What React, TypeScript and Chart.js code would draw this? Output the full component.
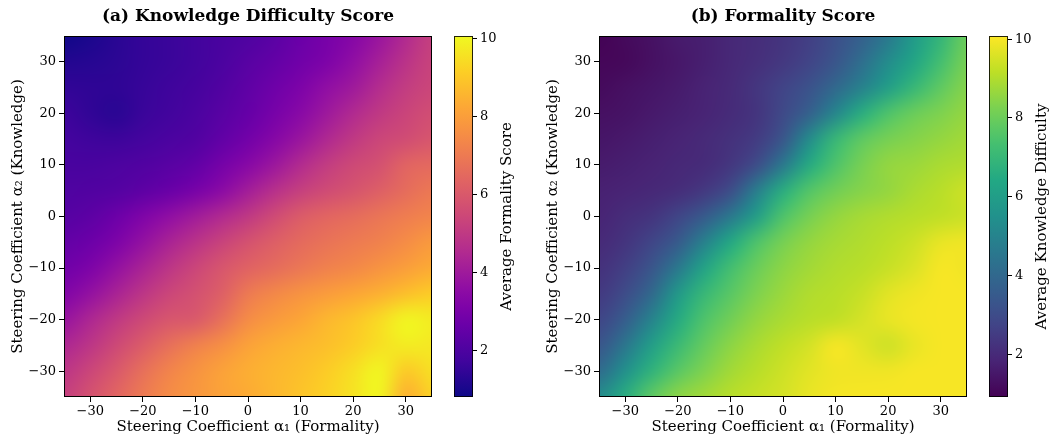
import React, { useEffect, useRef } from 'react';
import { Chart, registerables } from 'chart.js';
Chart.register(...registerables);

// ---------------- data ----------------
const alphaX = [-35, -30, -25, -20, -15, -10, -5, 0, 5, 10, 15, 20, 25, 30, 35];
const alphaY = [35, 30, 25, 20, 15, 10, 5, 0, -5, -10, -15, -20, -25, -30, -35];
const axisTicks = [-30, -20, -10, 0, 10, 20, 30];
const colorbarTicks = [2, 4, 6, 8, 10];

const panelATitle = '(a) Knowledge Difficulty Score';
const panelBTitle = '(b) Formality Score';
const panelALabel = 'Average Formality Score';
const panelBLabel = 'Average Knowledge Difficulty';
const xTitle = 'Steering Coefficient α\u2081 (Formality)';
const yTitle = 'Steering Coefficient α\u2082 (Knowledge)';

const panelARange = [0.8, 10.07];
const panelBRange = [0.92, 10.08];

// rows: alphaY (top to bottom), columns: alphaX (left to right)
const panelAScores = [
  [0.85, 1.05, 1.3, 1.5, 1.6, 1.75, 1.9, 2.05, 2.3, 2.65, 2.95, 3.3, 3.85, 4.5, 5.2],
  [1.2, 1.25, 1.35, 1.5, 1.6, 1.75, 1.95, 2.25, 2.5, 2.8, 3.1, 3.6, 4.2, 4.8, 5.3],
  [1.45, 1.4, 1.4, 1.55, 1.7, 1.85, 2.1, 2.4, 2.75, 3.1, 3.6, 4.0, 4.6, 5.1, 5.4],
  [1.65, 1.45, 1.3, 1.6, 1.75, 1.95, 2.25, 2.55, 2.95, 3.4, 3.95, 4.5, 5.0, 5.35, 5.65],
  [1.8, 1.7, 1.65, 1.8, 1.95, 2.1, 2.45, 2.85, 3.3, 3.85, 4.45, 5.0, 5.4, 5.6, 5.9],
  [1.9, 1.9, 2.0, 2.1, 2.25, 2.45, 2.9, 3.35, 3.9, 4.55, 5.1, 5.5, 5.75, 6.35, 6.5],
  [2.05, 2.1, 2.15, 2.35, 2.6, 2.95, 3.45, 4.1, 4.7, 5.2, 5.55, 5.85, 6.2, 6.6, 6.95],
  [2.2, 2.35, 2.7, 3.15, 3.6, 4.05, 4.5, 5.0, 5.55, 6.1, 6.4, 6.6, 6.85, 7.1, 7.3],
  [2.5, 2.7, 3.1, 3.7, 4.3, 4.8, 5.3, 5.8, 6.2, 6.55, 6.8, 7.0, 7.2, 7.5, 7.9],
  [2.8, 3.1, 3.7, 4.3, 4.9, 5.4, 5.9, 6.3, 6.6, 6.9, 7.2, 7.4, 7.7, 8.0, 8.3],
  [3.2, 3.7, 4.3, 4.9, 5.4, 5.75, 6.2, 7.0, 7.4, 7.7, 7.95, 8.2, 8.45, 8.8, 9.1],
  [3.8, 4.4, 5.0, 5.5, 5.9, 6.0, 6.7, 7.5, 7.9, 8.2, 8.6, 8.9, 9.4, 10.0, 9.8],
  [4.4, 4.9, 5.5, 6.1, 6.7, 7.2, 7.6, 8.1, 8.4, 8.6, 8.8, 9.1, 9.5, 9.8, 9.7],
  [4.9, 5.4, 6.0, 6.7, 7.3, 7.7, 8.1, 8.4, 8.6, 8.8, 9.1, 9.5, 10.0, 9.0, 9.5],
  [5.2, 5.8, 6.4, 7.0, 7.5, 7.8, 8.1, 8.3, 8.6, 8.9, 9.2, 9.6, 10.0, 8.4, 9.2],
];

const panelBScores = [
  [0.95, 1.15, 1.35, 1.6, 1.7, 1.95, 2.1, 2.3, 2.6, 3.1, 3.7, 4.6, 5.9, 6.9, 8.0],
  [1.05, 1.1, 1.3, 1.5, 1.7, 1.95, 2.15, 2.4, 2.75, 3.3, 4.2, 5.3, 6.3, 7.3, 8.2],
  [1.15, 1.3, 1.45, 1.6, 1.8, 2.0, 2.35, 2.75, 3.2, 4.0, 4.9, 6.0, 7.0, 7.8, 8.4],
  [1.3, 1.4, 1.55, 1.7, 1.85, 2.05, 2.3, 2.9, 3.7, 5.1, 6.6, 7.5, 8.0, 8.3, 8.6],
  [1.45, 1.55, 1.7, 1.85, 2.0, 2.2, 2.5, 3.3, 5.3, 7.0, 7.8, 8.2, 8.4, 8.6, 8.8],
  [1.6, 1.7, 1.8, 1.95, 2.05, 2.35, 3.0, 4.6, 6.5, 7.5, 8.2, 8.6, 8.7, 8.9, 9.0],
  [1.75, 1.85, 1.95, 2.1, 2.4, 3.0, 4.8, 6.6, 7.6, 8.1, 8.4, 8.6, 8.9, 9.1, 9.4],
  [1.85, 2.1, 2.3, 2.8, 3.5, 4.6, 6.0, 7.5, 8.2, 8.6, 8.85, 9.0, 9.1, 9.2, 9.35],
  [2.0, 2.3, 2.8, 3.5, 4.9, 6.4, 7.5, 8.2, 8.6, 8.85, 9.0, 9.15, 9.4, 9.8, 9.9],
  [2.2, 2.6, 3.3, 4.6, 6.2, 7.3, 8.0, 8.5, 8.8, 9.0, 9.1, 9.3, 9.6, 10.0, 9.9],
  [2.45, 3.0, 4.0, 5.8, 7.0, 7.7, 8.3, 8.7, 9.0, 9.1, 9.3, 9.7, 9.9, 10.0, 10.0],
  [2.8, 3.6, 5.0, 6.5, 7.5, 8.1, 8.6, 8.9, 9.1, 9.2, 9.5, 9.8, 9.95, 10.0, 10.0],
  [3.3, 4.5, 6.0, 7.1, 7.9, 8.5, 8.9, 9.2, 9.5, 10.0, 9.7, 9.4, 9.8, 10.0, 10.0],
  [4.1, 5.5, 6.8, 7.7, 8.3, 8.8, 9.1, 9.4, 9.7, 9.9, 9.9, 9.9, 10.0, 10.0, 10.0],
  [5.3, 6.6, 7.8, 8.5, 8.8, 9.1, 9.3, 9.5, 9.8, 9.95, 10.0, 10.0, 10.0, 10.0, 10.0],
];

// colormap stops: [position, r, g, b]
const plasmaStops: number[][] = [
  [0.0, 13, 8, 135], [0.1, 65, 4, 157], [0.2, 106, 0, 168], [0.25, 126, 3, 168],
  [0.3, 143, 13, 164], [0.4, 177, 42, 144], [0.5, 204, 71, 120], [0.6, 225, 100, 98],
  [0.7, 242, 132, 75], [0.75, 248, 149, 64], [0.8, 252, 166, 54], [0.9, 252, 206, 37],
  [1.0, 240, 249, 33],
];
const viridisStops: number[][] = [
  [0.0, 68, 1, 84], [0.1, 72, 36, 117], [0.2, 65, 68, 135], [0.25, 59, 82, 139],
  [0.3, 53, 95, 141], [0.4, 42, 120, 142], [0.5, 33, 145, 140], [0.6, 34, 168, 132],
  [0.7, 68, 191, 112], [0.75, 94, 201, 98], [0.8, 122, 209, 81], [0.9, 189, 223, 38],
  [1.0, 253, 231, 37],
];

// ---------------- helpers ----------------
const FONT = "'DejaVu Serif', serif";

function colorAt(stops: number[][], t: number): number[] {
  const tt = Math.max(0, Math.min(1, t));
  for (let i = 1; i < stops.length; i++) {
    if (tt <= stops[i][0]) {
      const a = stops[i - 1], b = stops[i];
      const f = (tt - a[0]) / (b[0] - a[0]);
      return [0, 1, 2].map(k => Math.round(a[k + 1] + (b[k + 1] - a[k + 1]) * f));
    }
  }
  const l = stops[stops.length - 1];
  return [l[1], l[2], l[3]];
}

const fmtTick = (v: number | string) => {
  const n = Number(v);
  return n < 0 ? '\u2212' + Math.abs(n) : String(n);
};

function heatmapPlugin(grid: number[][], stops: number[][], range: number[]) {
  return {
    id: 'heatmapCells',
    beforeDatasetsDraw(chart: any) {
      const { ctx, chartArea, scales } = chart;
      const x = scales.x, y = scales.y;
      const nx = alphaX.length, ny = alphaY.length;
      const off = document.createElement('canvas');
      off.width = nx; off.height = ny;
      const octx = off.getContext('2d')!;
      const img = octx.createImageData(nx, ny);
      for (let j = 0; j < ny; j++) {
        for (let i = 0; i < nx; i++) {
          const c = colorAt(stops, (grid[j][i] - range[0]) / (range[1] - range[0]));
          const p = (j * nx + i) * 4;
          img.data[p] = c[0]; img.data[p + 1] = c[1]; img.data[p + 2] = c[2]; img.data[p + 3] = 255;
        }
      }
      octx.putImageData(img, 0, 0);
      const hx = (alphaX[1] - alphaX[0]) / 2;
      const hy = (alphaY[0] - alphaY[1]) / 2;
      const left = x.getPixelForValue(alphaX[0] - hx);
      const right = x.getPixelForValue(alphaX[nx - 1] + hx);
      const top = y.getPixelForValue(alphaY[0] + hy);
      const bottom = y.getPixelForValue(alphaY[ny - 1] - hy);
      ctx.save();
      ctx.beginPath();
      ctx.rect(chartArea.left, chartArea.top, chartArea.right - chartArea.left, chartArea.bottom - chartArea.top);
      ctx.clip();
      ctx.imageSmoothingEnabled = true;
      (ctx as any).imageSmoothingQuality = 'high';
      ctx.drawImage(off, left, top, right - left, bottom - top);
      ctx.restore();
    },
    afterDatasetsDraw(chart: any) {
      const { ctx, chartArea: a } = chart;
      ctx.save();
      ctx.strokeStyle = '#000';
      ctx.lineWidth = 1;
      ctx.strokeRect(a.left + 0.5, a.top + 0.5, a.right - a.left - 1, a.bottom - a.top - 1);
      ctx.restore();
    },
  };
}

function colorbarPlugin(stops: number[][], range: number[], label: string) {
  return {
    id: 'colorbarFill',
    beforeDatasetsDraw(chart: any) {
      const { ctx, chartArea: a, scales } = chart;
      const y = scales.y;
      const y0 = y.getPixelForValue(range[0]);
      const y1 = y.getPixelForValue(range[1]);
      const g = ctx.createLinearGradient(0, y0, 0, y1);
      stops.forEach(s => g.addColorStop(s[0], `rgb(${s[1]},${s[2]},${s[3]})`));
      ctx.save();
      ctx.fillStyle = g;
      ctx.fillRect(a.left, a.top, a.right - a.left, a.bottom - a.top);
      ctx.restore();
    },
    afterDatasetsDraw(chart: any) {
      const { ctx, chartArea: a } = chart;
      ctx.save();
      ctx.strokeStyle = 'rgba(0,0,0,0.85)';
      ctx.lineWidth = 1;
      ctx.strokeRect(a.left + 0.5, a.top + 0.5, a.right - a.left - 1, a.bottom - a.top - 1);
      ctx.translate(a.right + 34, (a.top + a.bottom) / 2);
      ctx.rotate(-Math.PI / 2);
      ctx.fillStyle = '#000';
      ctx.font = `15px ${FONT}`;
      ctx.textAlign = 'center';
      ctx.textBaseline = 'middle';
      ctx.fillText(label, 0, 0);
      ctx.restore();
    },
  };
}

function makeHeatmap(canvas: HTMLCanvasElement, title: string, grid: number[][], stops: number[][], range: number[]) {
  const cells: { x: number; y: number; v: number }[] = [];
  alphaY.forEach((yy, j) => alphaX.forEach((xx, i) => cells.push({ x: xx, y: yy, v: grid[j][i] })));
  return new Chart(canvas, {
    type: 'scatter',
    data: { datasets: [{ data: cells, pointRadius: 0, pointHoverRadius: 0 }] },
    options: {
      animation: false,
      responsive: true,
      maintainAspectRatio: false,
      events: [],
      layout: { padding: { left: 0, right: 8, top: 0, bottom: 0 } },
      plugins: {
        legend: { display: false },
        tooltip: { enabled: false },
        title: {
          display: true,
          text: title,
          fullSize: false,
          color: '#000',
          font: { family: FONT, size: 17, weight: 'bold', lineHeight: 1.2 },
          padding: { top: 6, bottom: 9.6 },
        },
      },
      scales: {
        x: {
          type: 'linear',
          min: -35,
          max: 35,
          afterBuildTicks: (s: any) => { s.ticks = axisTicks.map(v => ({ value: v })); },
          afterFit: (s: any) => { s.height = 42; },
          ticks: { color: '#000', font: { family: FONT, size: 13 }, padding: 2, maxRotation: 0, callback: fmtTick },
          grid: { drawOnChartArea: false, drawTicks: true, tickLength: 5, color: '#000' },
          border: { display: false },
          title: { display: true, text: xTitle, color: '#000', font: { family: FONT, size: 15, lineHeight: 1.2 }, padding: { top: 0, bottom: 3 } },
        },
        y: {
          type: 'linear',
          min: -35,
          max: 35,
          afterBuildTicks: (s: any) => { s.ticks = axisTicks.map(v => ({ value: v })); },
          afterFit: (s: any) => { s.width = 64; },
          ticks: { color: '#000', font: { family: FONT, size: 13 }, padding: 3, callback: fmtTick },
          grid: { drawOnChartArea: false, drawTicks: true, tickLength: 5, color: '#000' },
          border: { display: false },
          title: { display: true, text: yTitle, color: '#000', font: { family: FONT, size: 15, lineHeight: 1.2 }, padding: { top: 9, bottom: 0 } },
        },
      },
    } as any,
    plugins: [heatmapPlugin(grid, stops, range)],
  });
}

function makeColorbar(canvas: HTMLCanvasElement, stops: number[][], range: number[], label: string, axisWidth: number) {
  return new Chart(canvas, {
    type: 'scatter',
    data: { datasets: [] },
    options: {
      animation: false,
      responsive: true,
      maintainAspectRatio: false,
      events: [],
      layout: { padding: { left: 14, right: 0, top: 36, bottom: 42 } },
      plugins: { legend: { display: false }, tooltip: { enabled: false } },
      scales: {
        x: { display: false, min: 0, max: 1 },
        y: {
          type: 'linear',
          position: 'right',
          min: range[0],
          max: range[1],
          afterBuildTicks: (s: any) => { s.ticks = colorbarTicks.map(v => ({ value: v })); },
          afterFit: (s: any) => { s.width = axisWidth; },
          ticks: { color: '#000', font: { family: FONT, size: 13 }, padding: 3 },
          grid: { drawOnChartArea: false, drawTicks: true, tickLength: 4, color: '#000' },
          border: { display: false },
        },
      },
    } as any,
    plugins: [colorbarPlugin(stops, range, label)],
  });
}

export default function App() {
  const aRef = useRef<HTMLCanvasElement>(null);
  const acbRef = useRef<HTMLCanvasElement>(null);
  const bRef = useRef<HTMLCanvasElement>(null);
  const bcbRef = useRef<HTMLCanvasElement>(null);

  useEffect(() => {
    const charts = [
      makeHeatmap(aRef.current!, panelATitle, panelAScores, plasmaStops, panelARange),
      makeColorbar(acbRef.current!, plasmaStops, panelARange, panelALabel, 62),
      makeHeatmap(bRef.current!, panelBTitle, panelBScores, viridisStops, panelBRange),
      makeColorbar(bcbRef.current!, viridisStops, panelBRange, panelBLabel, 45),
    ];
    return () => charts.forEach(c => c.destroy());
  }, []);

  const box = (left: number, width: number): React.CSSProperties => ({ position: 'absolute', left, top: 0, width, height: 439 });
  return (
    <div style={{ position: 'absolute', left: 0, top: 0, width: 1053, height: 439, background: '#fff' }}>
      <div style={box(0, 440)}><canvas ref={aRef} /></div>
      <div style={box(440, 95)}><canvas ref={acbRef} /></div>
      <div style={box(535, 440)}><canvas ref={bRef} /></div>
      <div style={box(975, 78)}><canvas ref={bcbRef} /></div>
    </div>
  );
}
